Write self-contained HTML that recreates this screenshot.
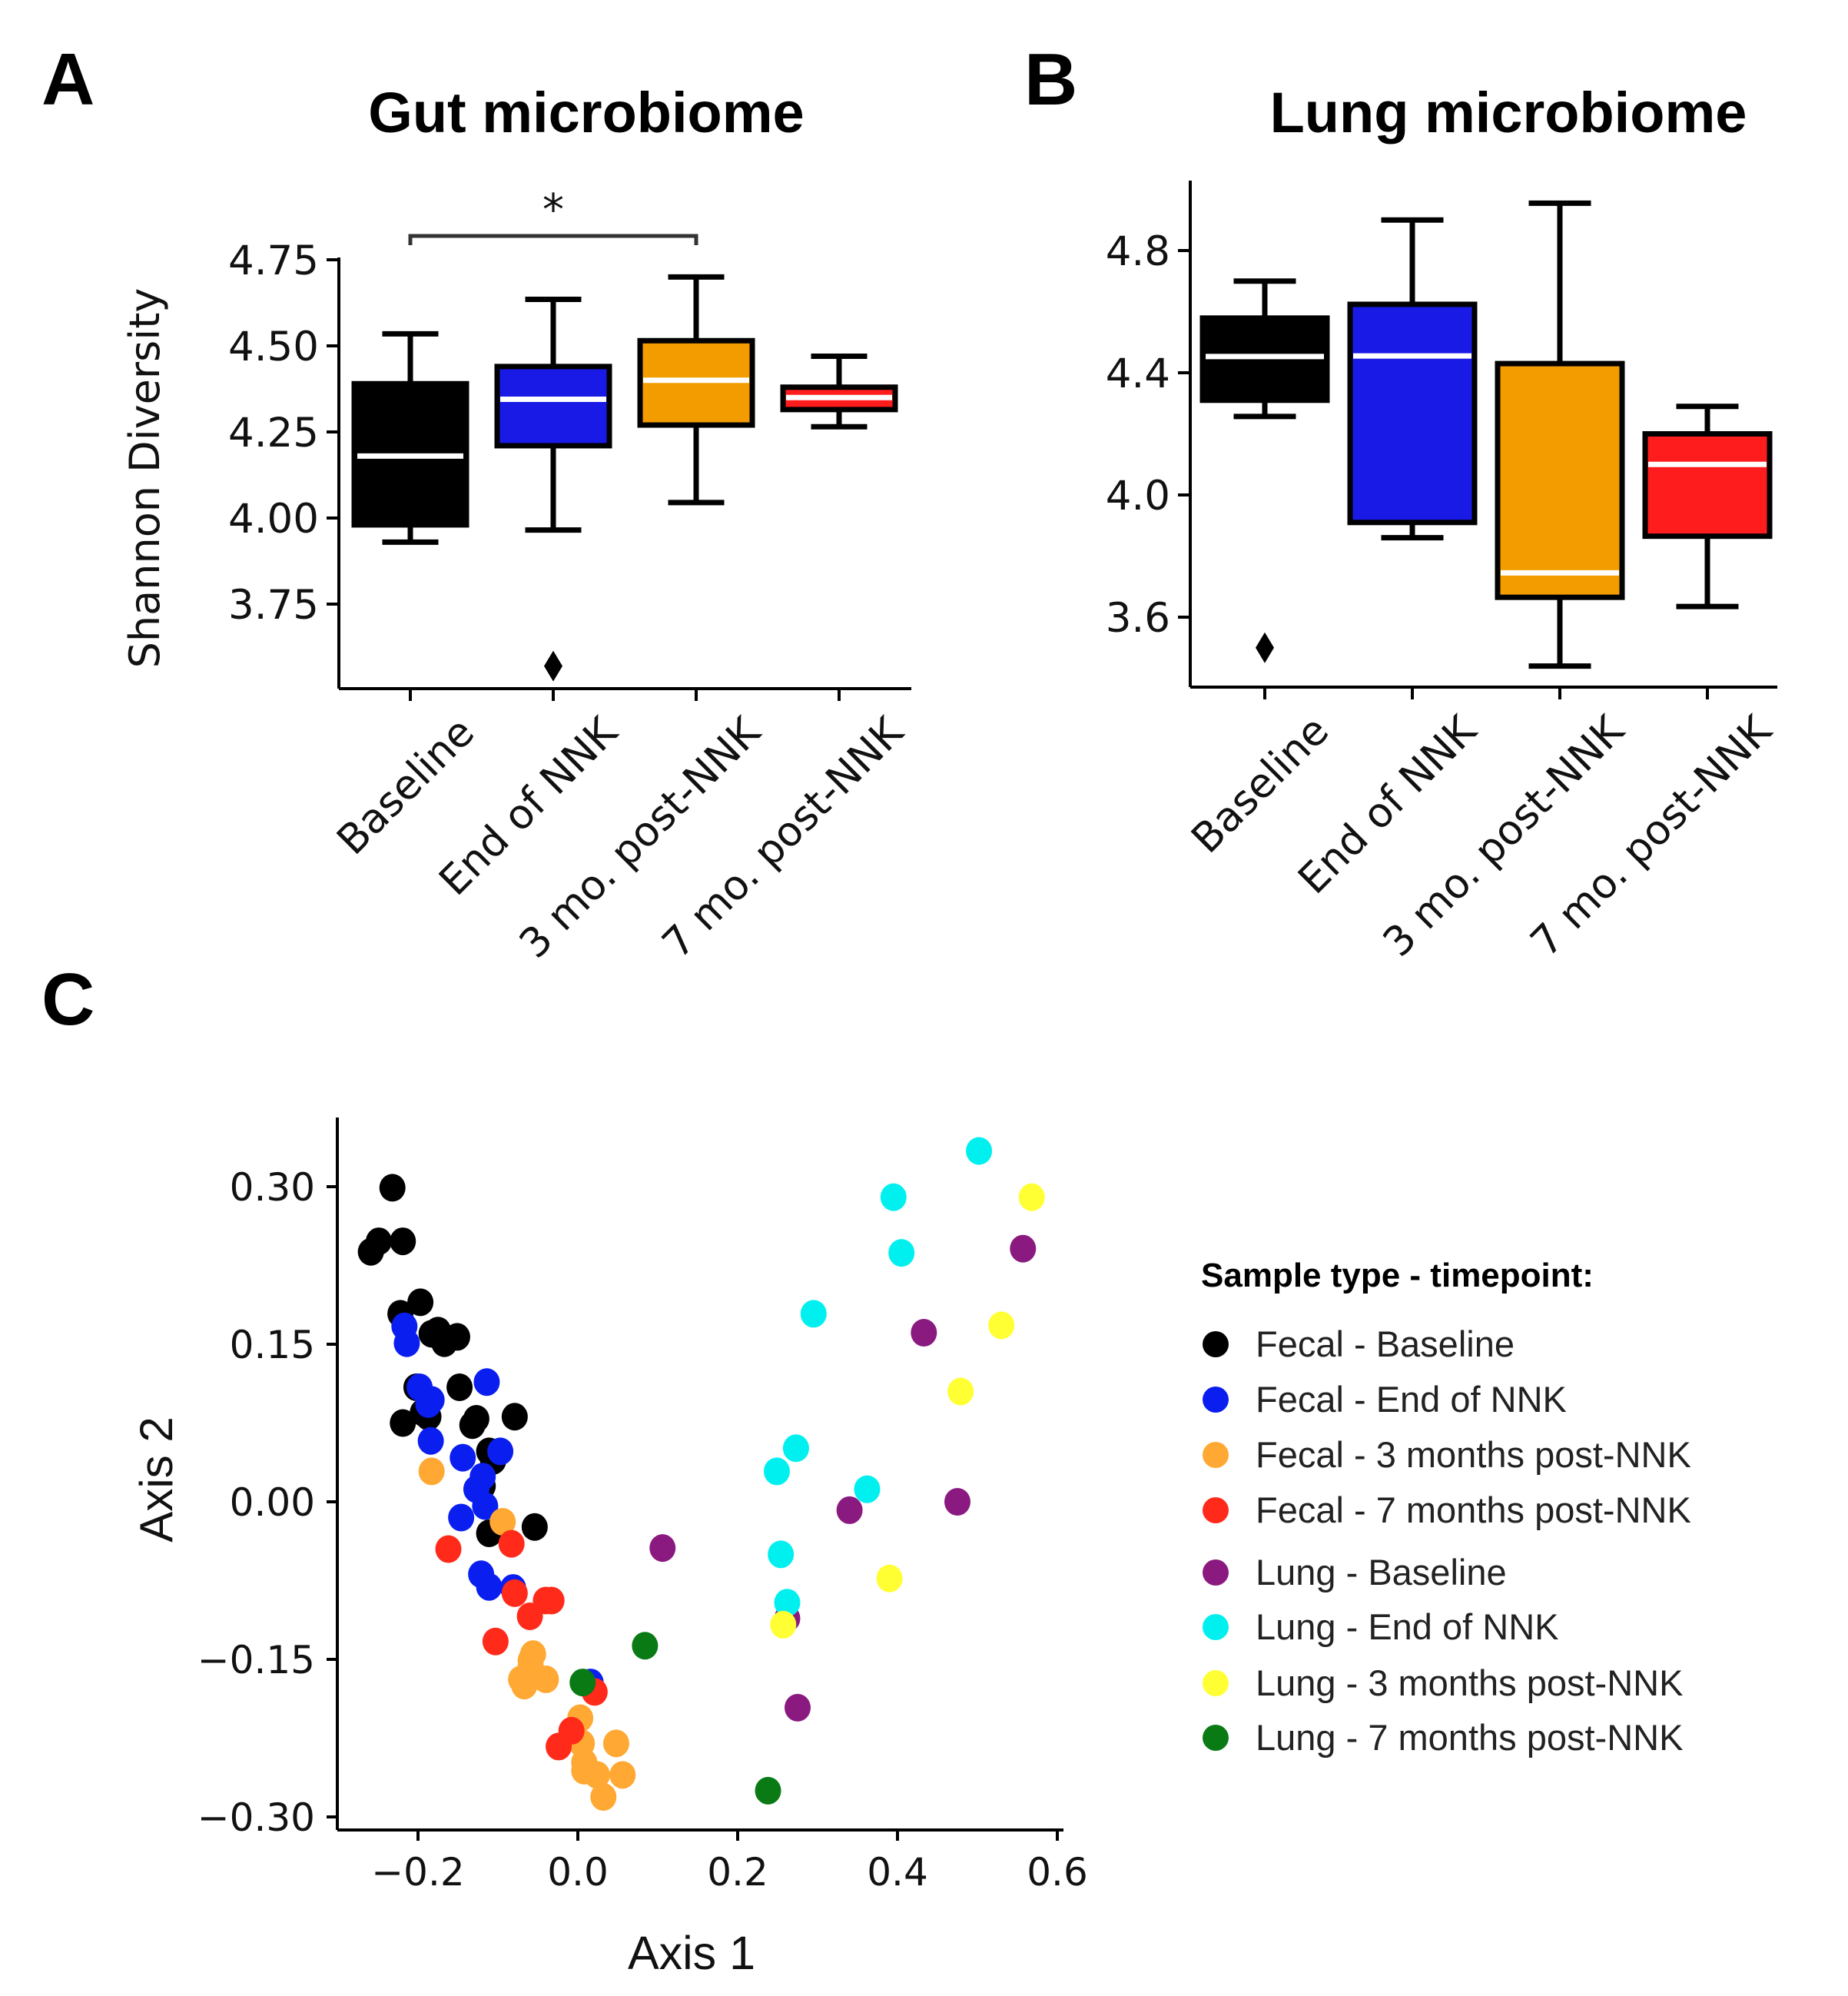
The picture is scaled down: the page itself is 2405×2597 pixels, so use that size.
<!DOCTYPE html>
<html><head><meta charset="utf-8"><style>
html,body{margin:0;padding:0;background:#fff;}
svg{display:block;font-family:"DejaVu Sans","Liberation Sans",sans-serif;}
</style></head><body>
<svg id="fig" width="2405" height="2597" viewBox="0 0 2405 2597" xmlns="http://www.w3.org/2000/svg">
<text x="54" y="136" font-family="Liberation Sans, sans-serif" font-weight="bold" font-size="96">A</text>
<text x="1333" y="136" font-family="Liberation Sans, sans-serif" font-weight="bold" font-size="96">B</text>
<text x="54" y="1333" font-family="Liberation Sans, sans-serif" font-weight="bold" font-size="96">C</text>
<text x="763" y="172" text-anchor="middle" font-family="Liberation Sans, sans-serif" font-weight="bold" font-size="74">Gut microbiome</text>
<text x="1963" y="172" text-anchor="middle" font-family="Liberation Sans, sans-serif" font-weight="bold" font-size="74">Lung microbiome</text>
<g id="gA"></g>
<g id="gB"></g>
<g id="gC"></g>
<g id="gL"></g>
</svg>
<script>
const NS="http://www.w3.org/2000/svg";
const categories=["Baseline","End of NNK","3 mo. post-NNK","7 mo. post-NNK"];
const boxColors=["#000000","#1a1ae6","#f29c00","#ff1c1c"];
// Gut: [whiskerLow, q1, median, q3, whiskerHigh]
const gutStats=[[3.93,3.98,4.18,4.39,4.535],[3.965,4.21,4.345,4.44,4.635],[4.045,4.27,4.40,4.515,4.70],[4.265,4.315,4.35,4.38,4.47]];
const gutOutliers=[[],[3.57],[],[]];
const gutTicks=[3.75,4.00,4.25,4.50,4.75];
const lungStats=[[4.257,4.31,4.453,4.579,4.70],[3.86,3.91,4.455,4.624,4.90],[3.44,3.665,3.745,4.43,4.955],[3.635,3.865,4.10,4.20,4.29]];
const lungOutliers=[[3.5],[],[],[]];
const lungTicks=[3.6,4.0,4.4,4.8];
// PCoA points [axis1, axis2]
const fecalBaseline=[[-0.232,0.299],[-0.259,0.238],[-0.249,0.248],[-0.219,0.248],[-0.222,0.179],[-0.197,0.190],[-0.175,0.163],[-0.151,0.157],[-0.202,0.109],[-0.194,0.085],[-0.219,0.075],[-0.187,0.081],[-0.148,0.109],[-0.132,0.073],[-0.127,0.079],[-0.079,0.081],[-0.111,0.048],[-0.119,0.015],[-0.111,-0.030],[-0.054,-0.024],[-0.183,0.160],[-0.167,0.151],[-0.106,0.039]];
const fecalEnd=[[-0.217,0.167],[-0.214,0.151],[-0.183,0.097],[-0.187,0.093],[-0.184,0.058],[-0.144,0.042],[-0.114,0.114],[-0.097,0.048],[-0.119,0.024],[-0.127,0.012],[-0.146,-0.015],[-0.116,-0.004],[-0.121,-0.069],[-0.111,-0.081],[-0.081,-0.082],[0.016,-0.172],[-0.198,0.109]];
const fecal3mo=[[-0.183,0.029],[-0.094,-0.019],[-0.056,-0.145],[-0.071,-0.169],[-0.040,-0.169],[-0.059,-0.151],[-0.067,-0.175],[0.003,-0.206],[0.005,-0.230],[0.008,-0.248],[0.024,-0.260],[0.048,-0.230],[0.056,-0.260],[0.032,-0.281],[0.008,-0.256],[-0.059,-0.157]];
const fecal7mo=[[-0.162,-0.045],[-0.083,-0.040],[-0.079,-0.087],[-0.060,-0.109],[-0.040,-0.094],[-0.033,-0.094],[-0.103,-0.133],[0.021,-0.181],[-0.008,-0.218],[-0.024,-0.233]];
const lungBaseline=[[0.106,-0.044],[0.262,-0.111],[0.275,-0.196],[0.340,-0.008],[0.433,0.161],[0.475,0.000],[0.557,0.241]];
const lungEnd=[[0.502,0.334],[0.395,0.290],[0.405,0.237],[0.295,0.179],[0.273,0.051],[0.249,0.029],[0.362,0.012],[0.254,-0.050],[0.262,-0.096]];
const lung3mo=[[0.568,0.290],[0.530,0.168],[0.479,0.105],[0.390,-0.073],[0.257,-0.117]];
const lung7mo=[[0.006,-0.172],[0.084,-0.137],[0.238,-0.275]];
const seriesNames=["Fecal - Baseline","Fecal - End of NNK","Fecal - 3 months post-NNK","Fecal - 7 months post-NNK","Lung - Baseline","Lung - End of NNK","Lung - 3 months post-NNK","Lung - 7 months post-NNK"];
const seriesColors=["#000000","#0a1ef0","#ffa833","#ff2a1a","#8a1a80","#00f0f0","#ffff33","#0a7a14"];
const seriesData=[fecalBaseline,fecalEnd,fecal3mo,fecal7mo,lungBaseline,lungEnd,lung3mo,lung7mo];
const pcTicksX=[-0.2,0.0,0.2,0.4,0.6];
const pcTicksY=[-0.30,-0.15,0.00,0.15,0.30];

function el(tag,attrs,parent,text){const e=document.createElementNS(NS,tag);for(const k in attrs)e.setAttribute(k,attrs[k]);if(text!==undefined)e.textContent=text;parent.appendChild(e);return e;}

function boxPanel(g,stats,outliers,ticks,cfg,prefix){
  const y=v=>cfg.y0-(v-cfg.v0)*cfg.k;
  const xs=i=>cfg.x0+i*cfg.dx;
  let a=el('line',{x1:cfg.ax,y1:cfg.top,x2:cfg.ax,y2:cfg.bot,stroke:'#000','stroke-width':4},g);
  
  
  a=el('line',{x1:cfg.ax,y1:cfg.bot,x2:cfg.right,y2:cfg.bot,stroke:'#000','stroke-width':4},g);
  
  
  ticks.forEach(t=>{
    el('line',{x1:cfg.ax-16,y1:y(t),x2:cfg.ax,y2:y(t),stroke:'#000','stroke-width':4},g);
    const tx=el('text',{x:cfg.ax-26,y:y(t)+19,'text-anchor':'end','font-size':53,fill:'#111'},g,t.toFixed(cfg.dec));
    
    
  });
  stats.forEach((s,i)=>{
    const cx=xs(i),w=cfg.bw;
    el('line',{x1:cx,y1:cfg.bot,x2:cx,y2:cfg.bot+16,stroke:'#000','stroke-width':4},g);
    const lbl=el('text',{x:0,y:0,'text-anchor':'end','font-size':53,fill:'#111',transform:`translate(${cx+86},${cfg.bot+60}) rotate(-45)`},g,categories[i]);
    
    
    const bg=el('g',{},g);
    
    
    el('line',{x1:cx,y1:y(s[0]),x2:cx,y2:y(s[1]),stroke:'#000','stroke-width':7},bg);
    el('line',{x1:cx,y1:y(s[3]),x2:cx,y2:y(s[4]),stroke:'#000','stroke-width':7},bg);
    el('line',{x1:cx-w/4,y1:y(s[0]),x2:cx+w/4,y2:y(s[0]),stroke:'#000','stroke-width':7},bg);
    el('line',{x1:cx-w/4,y1:y(s[4]),x2:cx+w/4,y2:y(s[4]),stroke:'#000','stroke-width':7},bg);
    el('rect',{x:cx-w/2,y:y(s[3]),width:w,height:y(s[1])-y(s[3]),fill:boxColors[i],stroke:'#000','stroke-width':7},bg);
    el('line',{x1:cx-w/2+4,y1:y(s[2]),x2:cx+w/2-4,y2:y(s[2]),stroke:'#fff','stroke-width':7},bg);
    outliers[i].forEach(o=>{
      const p=el('path',{d:`M${cx},${y(o)-20} L${cx+12},${y(o)} L${cx},${y(o)+20} L${cx-12},${y(o)} Z`,fill:'#000'},g);
      
      
    });
  });
  return {y,xs};
}
const gA=document.getElementById('gA');
const A=boxPanel(gA,gutStats,gutOutliers,gutTicks,{y0:674,v0:4.0,k:112/0.25,x0:534,dx:186,bw:146,ax:441,top:335,bot:896,right:1186,dec:2},'gut');
const br=el('path',{d:`M${A.xs(0)},319 L${A.xs(0)},307 L${A.xs(2)},307 L${A.xs(2)},319`,fill:'none',stroke:'#333','stroke-width':5},gA);


const st=el('text',{x:A.xs(1),y:292,'text-anchor':'middle','font-size':56,fill:'#111'},gA,'*');


const yl=el('text',{x:0,y:0,'text-anchor':'middle','font-size':54,fill:'#111',transform:'translate(207,622) rotate(-90)'},gA,'Shannon Diversity');



const gB=document.getElementById('gB');
boxPanel(gB,lungStats,lungOutliers,lungTicks,{y0:644,v0:4.0,k:159/0.4,x0:1646,dx:192,bw:162,ax:1549,top:235,bot:894,right:2313,dec:1},'lung');

const gC=document.getElementById('gC');
const px=v=>752+v/0.2*208;
const py=v=>1954-v/0.15*205;
let ax=el('line',{x1:439,y1:1454,x2:439,y2:2381,stroke:'#000','stroke-width':4},gC);


ax=el('line',{x1:439,y1:2381,x2:1384,y2:2381,stroke:'#000','stroke-width':4},gC);


pcTicksY.forEach(t=>{
  el('line',{x1:425,y1:py(t),x2:439,y2:py(t),stroke:'#000','stroke-width':4},gC);
  const tx=el('text',{x:410,y:py(t)+18,'text-anchor':'end','font-size':50,fill:'#111'},gC,(t<0?'\u2212':'')+Math.abs(t).toFixed(2));
  
  
});
pcTicksX.forEach(t=>{
  el('line',{x1:px(t),y1:2381,x2:px(t),y2:2395,stroke:'#000','stroke-width':4},gC);
  const tx=el('text',{x:px(t),y:2453,'text-anchor':'middle','font-size':50,fill:'#111'},gC,(t<0?'\u2212':'')+Math.abs(t).toFixed(1));
  
  
});
seriesData.forEach((arr,si)=>{
  arr.forEach(p=>{
    const c=el('ellipse',{cx:px(p[0]),cy:py(p[1]),rx:17,ry:18,fill:seriesColors[si]},gC);
    
    
  });
});
let t=el('text',{x:0,y:0,'text-anchor':'middle','font-size':60,'font-family':'Liberation Sans, sans-serif',fill:'#111',transform:'translate(224,1925) rotate(-90)'},gC,'Axis 2');


t=el('text',{x:900,y:2562,'text-anchor':'middle','font-size':61,'font-family':'Liberation Sans, sans-serif',fill:'#111'},gC,'Axis 1');



const gL=document.getElementById('gL');
t=el('text',{x:1563,y:1674,'font-size':44,'font-weight':'bold','font-family':'Liberation Sans, sans-serif',fill:'#000'},gL,'Sample type - timepoint:');


const legY=[1749,1821,1893,1965,2046,2117,2190,2261];
seriesNames.forEach((n,i)=>{
  const c=el('circle',{cx:1582,cy:legY[i],r:17,fill:seriesColors[i]},gL);
  
  
  const tx=el('text',{x:1634,y:legY[i]+16,'font-size':47,'font-family':'Liberation Sans, sans-serif',fill:'#222'},gL,n);
  
  
});
</script>
</body></html>
